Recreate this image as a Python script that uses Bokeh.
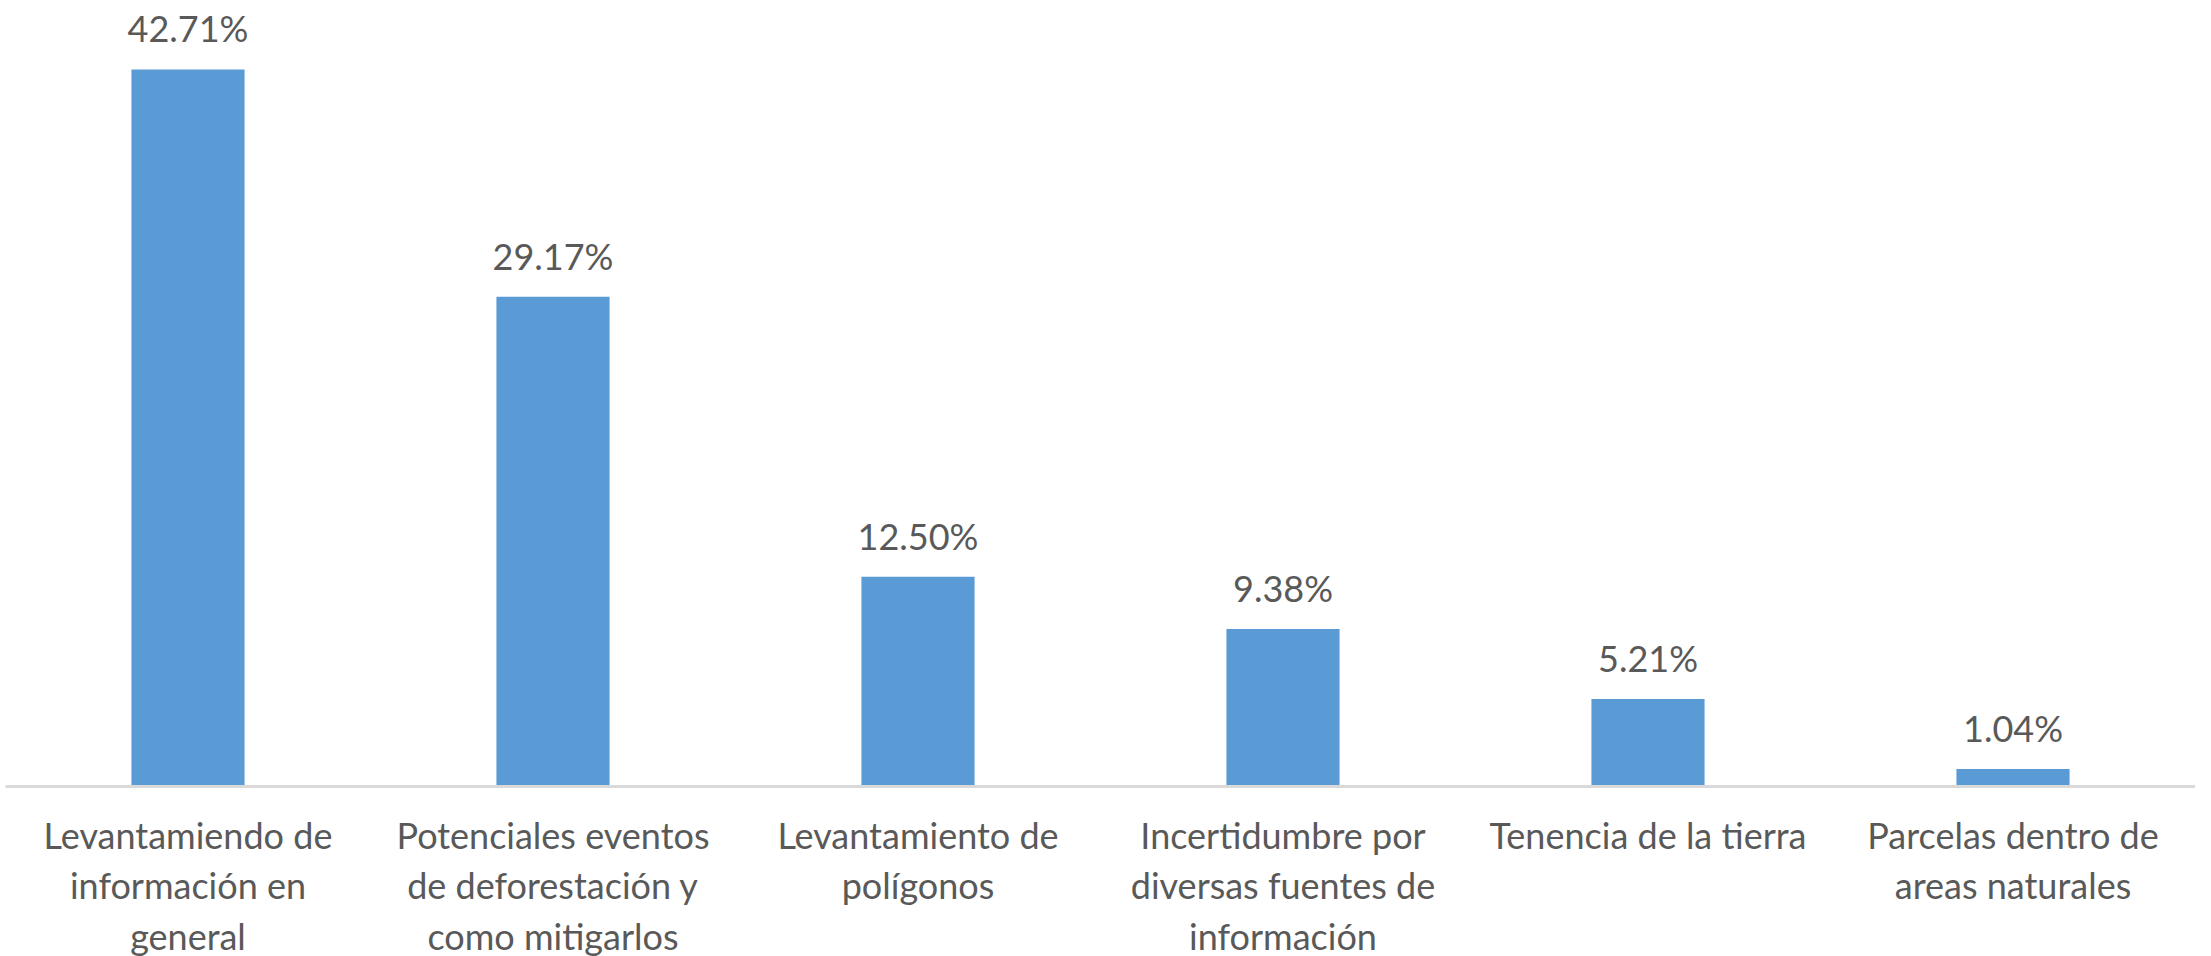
from bokeh.plotting import figure
from bokeh.models import ColumnDataSource, Range1d, FactorRange
from bokeh.core.properties import value
from bokeh.embed import file_html
from bokeh.resources import INLINE

categories = [
    "Levantamiendo de\ninformación en\ngeneral",
    "Potenciales eventos\nde deforestación y\ncomo mitigarlos",
    "Levantamiento de\npolígonos",
    "Incertidumbre por\ndiversas fuentes de\ninformación",
    "Tenencia de la tierra",
    "Parcelas dentro de\nareas naturales",
]
values = [42.71, 29.17, 12.50, 9.38, 5.21, 1.04]
value_labels = ["42.71%", "29.17%", "12.50%", "9.38%", "5.21%", "1.04%"]

FONT = "Lato"
TEXT_COLOR = "#595959"

src = ColumnDataSource(dict(cat=categories, val=values, lab=value_labels))

p = figure(
    x_range=FactorRange(*categories),
    y_range=Range1d(0, 46.28),
    frame_width=2190, frame_height=777,
    min_border_left=5, min_border_right=0, min_border_top=9, min_border_bottom=154,
    output_backend="svg", toolbar_location=None,
)
p.vbar(x="cat", top="val", width=0.31, source=src, fill_color="#5B9BD5", line_color=None)
p.text(x="cat", y="val", text="lab", source=src, text_align="center", text_baseline="alphabetic",
       y_offset=-41, text_font=value(FONT), text_font_size="36px", text_color=TEXT_COLOR)

p.yaxis.visible = False
p.xgrid.visible = False
p.ygrid.visible = False
p.outline_line_color = None
ax = p.xaxis[0]
ax.axis_line_color = "#D9D9D9"
ax.axis_line_width = 3
ax.major_tick_line_color = None
ax.minor_tick_line_color = None
ax.major_label_text_font = FONT
ax.major_label_text_font_size = "36px"
ax.major_label_text_color = TEXT_COLOR
ax.major_label_text_line_height = 1.15
ax.major_label_standoff = 20

open("out.html", "w").write(file_html(p, INLINE))
